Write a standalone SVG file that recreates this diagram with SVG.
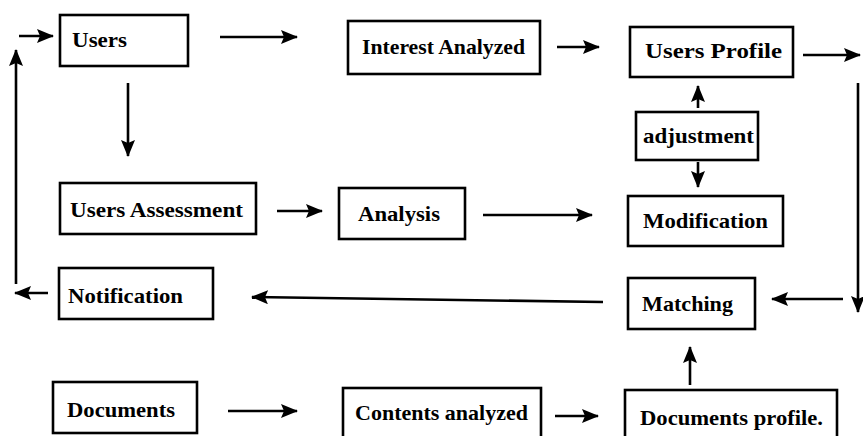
<svg xmlns="http://www.w3.org/2000/svg" width="863" height="436" viewBox="0 0 863 436">
  <defs>
    <marker id="head" markerUnits="userSpaceOnUse" markerWidth="17" markerHeight="14" refX="16" refY="7" orient="auto">
      <path d="M0,0 L17,7 L0,14 L3,7 z" fill="#000"/>
    </marker>
    <style>
      .box { fill: #fff; stroke: #000; stroke-width: 2.6; }
      .lbl { font-size: 22px; font-weight: bold; fill: #000; }
      .conn path { fill: none; stroke: #000; stroke-width: 2.6; }
      .conn .arr { marker-end: url(#head); }
    </style>
  </defs>
  <rect width="863" height="436" fill="#fff"/>

  <!-- connectors -->
  <g id="connectors" class="conn">
    <path class="arr" d="M19,36 H53"/>
    <path class="arr" d="M220,37 H297"/>
    <path class="arr" d="M16,284 V50"/>
    <path class="arr" d="M48,293 H15"/>
    <path class="arr" d="M128,83 V156"/>
    <path class="arr" d="M277,211 H322"/>
    <path class="arr" d="M483,215 H592"/>
    <path class="arr" d="M557,47 H599"/>
    <path class="arr" d="M803,55 H860"/>
    <path class="arr" d="M858,83 V312"/>
    <path class="arr" d="M843,299 H772"/>
    <path class="arr" d="M603,302 L252,297"/>
    <path class="arr" d="M698,108 V86"/>
    <path class="arr" d="M698,162 V187"/>
    <path class="arr" d="M690,385 V347"/>
    <path class="arr" d="M228,411 H297"/>
    <path class="arr" d="M555,416 H598"/>
  </g>

  <!-- nodes -->
  <g font-family="'Liberation Serif', 'DejaVu Serif', 'Times New Roman', serif">
    <g id="users">
      <rect class="box" x="60" y="15" width="128" height="51"/>
      <text class="lbl" x="72" y="47" textLength="55" lengthAdjust="spacingAndGlyphs">Users</text>
    </g>
    <g id="interest-analyzed">
      <rect class="box" x="348" y="21" width="192" height="53"/>
      <text class="lbl" x="362" y="54" textLength="163" lengthAdjust="spacingAndGlyphs">Interest Analyzed</text>
    </g>
    <g id="users-profile">
      <rect class="box" x="630" y="27" width="163" height="50"/>
      <text class="lbl" x="645" y="58" textLength="137" lengthAdjust="spacingAndGlyphs">Users Profile</text>
    </g>
    <g id="adjustment">
      <rect class="box" x="636" y="112" width="122" height="48"/>
      <text class="lbl" x="643" y="143" textLength="111" lengthAdjust="spacingAndGlyphs">adjustment</text>
    </g>
    <g id="users-assessment">
      <rect class="box" x="60" y="183" width="196" height="51"/>
      <text class="lbl" x="70" y="217" textLength="173" lengthAdjust="spacingAndGlyphs">Users Assessment</text>
    </g>
    <g id="analysis">
      <rect class="box" x="339" y="188" width="126" height="51"/>
      <text class="lbl" x="358" y="221" textLength="82" lengthAdjust="spacingAndGlyphs">Analysis</text>
    </g>
    <g id="modification">
      <rect class="box" x="628" y="196" width="155" height="50"/>
      <text class="lbl" x="643" y="228" textLength="125" lengthAdjust="spacingAndGlyphs">Modification</text>
    </g>
    <g id="notification">
      <rect class="box" x="59" y="268" width="154" height="51"/>
      <text class="lbl" x="68" y="303" textLength="115" lengthAdjust="spacingAndGlyphs">Notification</text>
    </g>
    <g id="matching">
      <rect class="box" x="628" y="278" width="127" height="51"/>
      <text class="lbl" x="642" y="311" textLength="91" lengthAdjust="spacingAndGlyphs">Matching</text>
    </g>
    <g id="documents">
      <rect class="box" x="53" y="382" width="144" height="51"/>
      <text class="lbl" x="67" y="417" textLength="108" lengthAdjust="spacingAndGlyphs">Documents</text>
    </g>
    <g id="contents-analyzed">
      <rect class="box" x="343" y="388" width="198" height="52"/>
      <text class="lbl" x="355" y="420" textLength="173" lengthAdjust="spacingAndGlyphs">Contents analyzed</text>
    </g>
    <g id="documents-profile">
      <rect class="box" x="625" y="390" width="212" height="50"/>
      <text class="lbl" x="640" y="425" textLength="183" lengthAdjust="spacingAndGlyphs">Documents profile.</text>
    </g>
  </g>
</svg>
